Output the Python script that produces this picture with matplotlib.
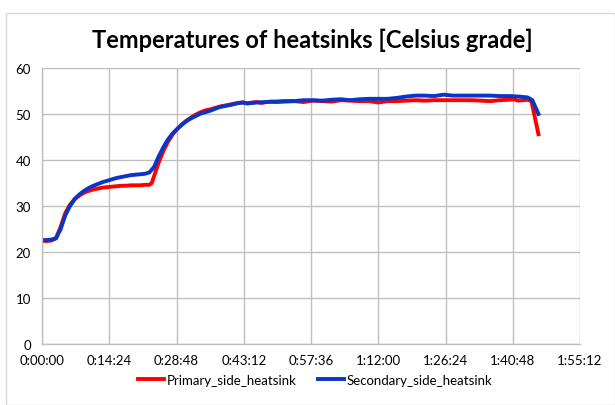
import matplotlib
matplotlib.use("Agg")
import matplotlib.pyplot as plt
from matplotlib.patches import Rectangle

title = "Temperatures of heatsinks [Celsius grade]"
series_names = ["Primary_side_heatsink", "Secondary_side_heatsink"]

# time in minutes
t_primary = [0, 1, 2, 3, 4, 5, 6, 7, 8, 9, 10, 11, 12, 13, 14, 15, 16, 17, 18, 19, 20,
             21, 22, 23, 23.5, 24, 25, 26, 27, 28, 29, 30, 31, 32, 33, 34, 35, 36, 37, 38,
             39, 40, 41, 42, 43, 44, 45, 46, 47, 48, 49, 50, 52, 54, 56, 58, 60, 62, 64,
             66, 68, 70, 72, 74, 76, 78, 80, 82, 84, 86, 88, 90, 92, 94, 96, 98, 100, 101,
             102, 103, 104, 104.8, 106.3]
v_primary = [22.4, 22.4, 22.5, 23.0, 25.5, 28.5, 30.3, 31.5, 32.3, 32.9, 33.3, 33.6, 33.8,
             34.0, 34.1, 34.2, 34.3, 34.4, 34.4, 34.5, 34.5, 34.5, 34.6, 34.6, 35.0, 36.5,
             39.5, 42.0, 44.0, 45.6, 46.8, 47.8, 48.6, 49.3, 49.9, 50.4, 50.8, 51.0, 51.3,
             51.6, 51.8, 52.0, 52.2, 52.4, 52.5, 52.3, 52.5, 52.6, 52.4, 52.6, 52.7, 52.6,
             52.7, 52.8, 52.6, 52.9, 52.8, 52.7, 53.0, 52.9, 52.8, 52.8, 52.5, 52.8, 52.8,
             52.9, 53.0, 52.9, 53.0, 53.0, 53.0, 53.0, 53.0, 52.9, 52.8, 53.0, 53.1, 53.2,
             52.9, 53.0, 53.1, 52.8, 45.6]

t_secondary = [0, 1, 2, 3, 4, 5, 6, 7, 8, 9, 10, 11, 12, 13, 14, 15, 16, 17, 18, 19, 20,
               21, 22, 23, 24, 25, 26, 27, 28, 29, 30, 31, 32, 33, 34, 35, 36, 37, 38, 39,
               40, 41, 42, 43, 44, 45, 46, 48, 50, 52, 54, 56, 58, 60, 62, 64, 66, 68, 70,
               72, 74, 76, 78, 80, 82, 84, 86, 88, 90, 92, 94, 96, 98, 100, 102, 104, 105,
               106.3]
v_secondary = [22.6, 22.6, 22.7, 23.0, 25.0, 28.0, 30.0, 31.5, 32.5, 33.3, 33.9, 34.4,
               34.8, 35.2, 35.5, 35.8, 36.1, 36.3, 36.5, 36.7, 36.8, 36.9, 37.0, 37.3, 38.5,
               40.8, 42.8, 44.5, 45.8, 46.8, 47.7, 48.5, 49.1, 49.6, 50.1, 50.4, 50.7, 51.1,
               51.5, 51.7, 51.9, 52.1, 52.4, 52.5, 52.3, 52.4, 52.5, 52.6, 52.7, 52.8, 52.8,
               53.0, 53.0, 52.9, 53.1, 53.2, 53.0, 53.2, 53.3, 53.3, 53.3, 53.5, 53.8, 54.0,
               54.0, 53.9, 54.2, 54.0, 54.0, 54.0, 54.0, 54.0, 53.9, 53.9, 53.8, 53.6, 53.0,
               50.0]

x_ticks = [0, 14.4, 28.8, 43.2, 57.6, 72.0, 86.4, 100.8, 115.2]
x_tick_labels = ["0:00:00", "0:14:24", "0:28:48", "0:43:12", "0:57:36",
                 "1:12:00", "1:26:24", "1:40:48", "1:55:12"]
y_ticks = [0, 10, 20, 30, 40, 50, 60]

plt.rcParams['font.family'] = ['Lato', 'DejaVu Sans']

fig = plt.figure(figsize=(6.15, 4.06), dpi=100)
fig.patches.append(Rectangle((6 / 615, 0), 1 - 6 / 615, 1 - 14 / 406,
                             transform=fig.transFigure, fill=False,
                             edgecolor="#d9d9d9", linewidth=1.0))
ax = fig.add_axes([42 / 615, 1 - 345 / 406, (580 - 42) / 615, (345 - 69) / 406])

ax.plot(t_primary, v_primary, color="#ff0000", linewidth=2.8, label=series_names[0])
ax.plot(t_secondary, v_secondary, color="#0a36c8", linewidth=2.8, label=series_names[1])

ax.set_xlim(0, 115.2)
ax.set_ylim(0, 60)
ax.set_xticks(x_ticks)
ax.set_xticklabels(x_tick_labels)
ax.set_yticks(y_ticks)
ax.tick_params(axis="both", length=0, labelsize=9.5, colors="#000000")
ax.tick_params(axis="x", pad=7)
ax.tick_params(axis="y", pad=8)
ax.grid(True, color="#bfbfbf", linewidth=1.0)
ax.set_axisbelow(True)
for side in ["top", "right"]:
    ax.spines[side].set_visible(False)
for side in ["left", "bottom"]:
    ax.spines[side].set_color("#bfbfbf")
    ax.spines[side].set_linewidth(1.0)

fig.text(312 / 615, 1 - 40 / 406, title, ha="center", va="center",
         fontsize=17, fontweight="bold")

fig.legend(loc="center", bbox_to_anchor=(315 / 615, 1 - 381 / 406), ncol=2, frameon=False,
           fontsize=9.5, handlelength=2.0, columnspacing=1.6, handletextpad=0.2)

fig.savefig("out.png", dpi=100)
